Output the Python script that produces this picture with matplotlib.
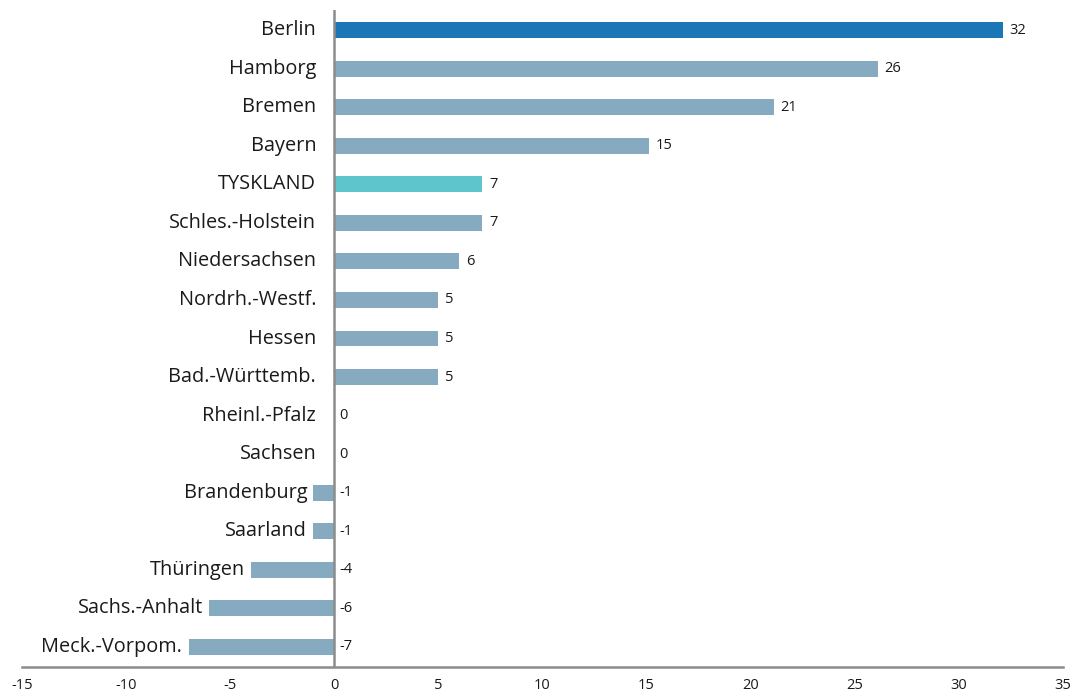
import matplotlib
matplotlib.use("Agg")
import matplotlib.pyplot as plt

categories = ["Berlin", "Hamborg", "Bremen", "Bayern", "TYSKLAND", "Schles.-Holstein",
              "Niedersachsen", "Nordrh.-Westf.", "Hessen", "Bad.-Württemb.", "Rheinl.-Pfalz",
              "Sachsen", "Brandenburg", "Saarland", "Thüringen", "Sachs.-Anhalt", "Meck.-Vorpom."]
values = [32.1, 26.1, 21.1, 15.1, 7.1, 7.1, 6.0, 5.0, 5.0, 5.0, 0.0, 0.0, -1.0, -1.0, -4.0, -6.0, -7.0]
value_labels = ["32", "26", "21", "15", "7", "7", "6", "5", "5", "5", "0", "0", "-1", "-1", "-4", "-6", "-7"]
xticks = [-15, -10, -5, 0, 5, 10, 15, 20, 25, 30, 35]

plt.rcParams['font.family'] = ['Open Sans', 'DejaVu Sans']

base_color = "#86abc0"
highlight = {"Berlin": "#1b76b6", "TYSKLAND": "#5ec5cc"}
colors = [highlight.get(c, base_color) for c in categories]
text_color = "#1a1a1a"

fig = plt.figure(figsize=(10.73, 6.92), dpi=100)
ax = fig.add_axes([22/1073, 25/692, (1063-22)/1073, (667-10)/692])

ypos = list(range(len(categories)))
ax.barh(ypos, values, height=0.41, color=colors, zorder=2)

ax.set_xlim(-15, 35)
ax.set_ylim(len(categories) - 0.48, -0.52)
ax.axvline(0, color="#8c8c8c", linewidth=1.8, zorder=3)

for s in ["left", "right", "top"]:
    ax.spines[s].set_visible(False)
ax.spines["bottom"].set_color("#8c8c8c")
ax.spines["bottom"].set_linewidth(1.8)

ax.set_yticks([])
ax.set_xticks(xticks)
ax.set_xticklabels([str(t) for t in xticks], fontsize=10.5, color=text_color)
ax.tick_params(axis="x", length=0, pad=8)

for y, v, cat, lab in zip(ypos, values, categories, value_labels):
    # category label
    if v < 0:
        ax.annotate(cat, xy=(v, y), xytext=(-4.5, 0), textcoords="offset points",
                    ha="right", va="center", fontsize=14.3, color=text_color)
    else:
        ax.annotate(cat, xy=(0, y), xytext=(-13, 0), textcoords="offset points",
                    ha="right", va="center", fontsize=14.3, color=text_color)
    # value label
    xv = max(v, 0)
    off = 5 if v > 0 else 3.5
    ax.annotate(lab, xy=(xv, y), xytext=(off, 0), textcoords="offset points",
                ha="left", va="center", fontsize=10.5, color=text_color)

fig.savefig("out.png", dpi=100)
